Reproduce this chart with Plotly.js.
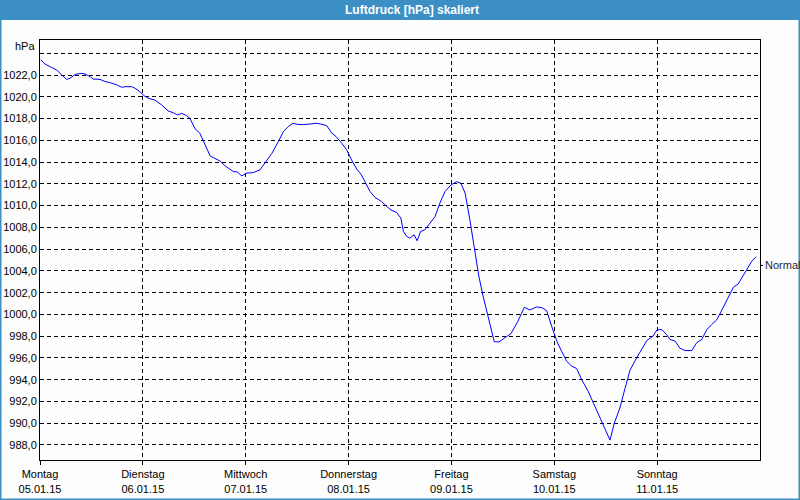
<!DOCTYPE html>
<html>
<head>
<meta charset="utf-8">
<script src="https://cdn.plot.ly/plotly-3.0.1.min.js"></script>
<style>html,body{margin:0;padding:0;background:#fcfdfc;}#chart{width:800px;height:500px;}</style>
</head>
<body>
<div id="chart"></div>
<script>
// Hours since Monday 05.01.15 00:00
const hours = [0.2,1.2,2.7,3.9,5.1,6.2,7.0,8.2,9.7,10.5,11.7,12.4,14.0,15.2,16.3,17.9,19.1,19.8,21.4,22.2,23.3,24.3,25.3,26.8,28.4,29.9,31.1,32.1,33.1,34.2,35.0,36.2,37.3,38.5,39.7,40.4,42.0,43.2,44.3,45.1,46.0,47.1,48.1,49.8,51.3,52.5,54.1,55.6,56.8,57.9,59.0,59.9,61.4,63.0,64.4,65.5,66.9,68.1,69.1,70.4,71.6,72.7,73.9,74.9,75.8,77.0,78.2,79.7,80.9,81.9,83.2,84.2,84.8,85.6,86.3,87.3,88.0,88.8,89.8,91.0,92.2,93.3,94.5,95.9,97.2,98.2,99.2,100.3,101.5,102.4,103.4,104.6,106.0,107.1,108.5,109.9,111.5,113.0,114.3,115.9,117.1,118.2,119.4,120.6,121.7,122.9,124.1,125.2,126.4,127.9,129.1,130.3,131.8,133.0,134.0,135.3,136.5,137.7,139.2,140.4,141.6,143.0,144.0,145.1,146.2,147.0,148.2,149.3,150.5,152.1,153.2,154.4,155.6,156.7,157.9,159.1,160.2,161.8,162.9,164.1,164.9,166.1,167.1];
const pressure = [1023.4,1023.0,1022.7,1022.46,1022.0,1021.6,1021.7,1022.06,1022.15,1022.1,1021.85,1021.63,1021.6,1021.4,1021.3,1021.1,1020.87,1020.93,1020.93,1020.78,1020.47,1020.1,1019.86,1019.7,1019.25,1018.7,1018.54,1018.33,1018.48,1018.27,1018.0,1017.05,1016.65,1015.58,1014.57,1014.42,1014.1,1013.65,1013.35,1013.13,1013.1,1012.73,1012.98,1013.04,1013.28,1013.95,1014.8,1015.88,1016.8,1017.26,1017.57,1017.48,1017.44,1017.5,1017.57,1017.5,1017.35,1016.65,1016.34,1015.73,1015.1,1014.2,1013.35,1012.89,1012.2,1011.3,1010.74,1010.38,1009.92,1009.6,1009.37,1008.85,1007.62,1007.16,1007.0,1007.32,1006.77,1007.62,1007.78,1008.39,1009.0,1010.23,1011.3,1011.9,1012.2,1012.06,1011.14,1008.7,1005.94,1003.5,1001.66,999.83,997.48,997.48,997.84,998.24,999.37,1000.65,1000.41,1000.69,1000.62,1000.35,998.9,997.53,996.61,995.69,995.24,995.03,994.0,992.94,991.88,990.8,989.6,988.45,990.0,991.4,993.2,994.9,996.0,996.77,997.6,998.0,998.6,998.6,998.15,997.7,997.55,996.9,996.68,996.68,997.38,997.7,998.6,999.06,999.5,1000.4,1001.2,1002.5,1002.8,1003.56,1004.17,1004.9,1005.3];
const dayTicks = [0,24,48,72,96,120,144];
const dayNames = ["Montag","Dienstag","Mittwoch","Donnerstag","Freitag","Samstag","Sonntag"];
const dayDates = ["05.01.15","06.01.15","07.01.15","08.01.15","09.01.15","10.01.15","11.01.15"];
const yTickVals = [988,990,992,994,996,998,1000,1002,1004,1006,1008,1010,1012,1014,1016,1018,1020,1022,1024];
const yTickText = ["988,0","990,0","992,0","994,0","996,0","998,0","1000,0","1002,0","1004,0","1006,0","1008,0","1010,0","1012,0","1014,0","1016,0","1018,0","1020,0","1022,0",""];
const normalValue = 1004.5;
const chartTitle = "Luftdruck [hPa] skaliert";
const unitLabel = "hPa";

const font = "Liberation Sans, Arial, sans-serif";
const trace = {x: hours, y: pressure, type: "scatter", mode: "lines",
  line: {color: "#0000ff", width: 1}, hoverinfo: "skip"};

const layout = {
  width: 800, height: 500,
  margin: {l: 40, r: 40, t: 40, b: 40},
  paper_bgcolor: "#fcfdfc", plot_bgcolor: "#fcfdfc",
  showlegend: false,
  font: {family: font, size: 11, color: "#000"},
  xaxis: {range: [0, 168], tickvals: dayTicks,
    ticktext: dayNames.map((d, i) => d + "<br>" + dayDates[i]),
    showgrid: true, gridcolor: "#000", gridwidth: 1, griddash: "4px,3px",
    showline: true, linecolor: "#000", linewidth: 1, mirror: true,
    ticks: "outside", ticklen: 4, tickcolor: "#000", zeroline: false,
    tickfont: {family: font, size: 11, color: "#000"}, fixedrange: true},
  yaxis: {range: [986.62, 1025.22], tickvals: yTickVals, ticktext: yTickText,
    showgrid: true, gridcolor: "#000", gridwidth: 1, griddash: "4px,3px",
    showline: true, linecolor: "#000", linewidth: 1, mirror: true,
    ticks: "", zeroline: false,
    tickfont: {family: font, size: 11, color: "#000"}, fixedrange: true},
  shapes: [
    {type: "rect", xref: "paper", yref: "paper", x0: -40/720, x1: 760/720, y0: 440/420, y1: 460/420,
      fillcolor: "#3c8fc4", line: {width: 0}, layer: "below"},
    {type: "rect", xref: "paper", yref: "paper", x0: -39.5/720, x1: 759.5/720, y0: -39.5/420, y1: 459.5/420,
      fillcolor: "rgba(0,0,0,0)", line: {color: "#3c8fc4", width: 2}},
    {type: "line", xref: "paper", yref: "y", x0: 1, x1: 1 + 3/720, y0: normalValue, y1: normalValue,
      line: {color: "#000", width: 1}}
  ],
  annotations: [
    {text: "<b>" + chartTitle + "</b>", xref: "paper", yref: "paper", x: 372/720, y: 450/420,
      xanchor: "center", yanchor: "middle", showarrow: false,
      font: {family: font, size: 12, color: "#ffffff"}},
    {text: unitLabel, xref: "paper", yref: "paper", x: 0, y: 414/420, xanchor: "right", yanchor: "middle",
      xshift: -3, showarrow: false, font: {family: font, size: 11, color: "#000"}},
    {text: "Normal", xref: "paper", yref: "y", x: 1, y: normalValue, xanchor: "left", yanchor: "middle",
      xshift: 3, showarrow: false, font: {family: font, size: 11, color: "#1c2840"}}
  ]
};
Plotly.newPlot("chart", [trace], layout, {displayModeBar: false, staticPlot: true});
</script>
</body>
</html>
